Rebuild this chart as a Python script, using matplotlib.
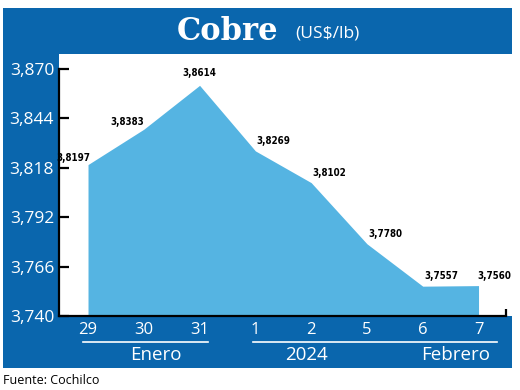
import matplotlib
matplotlib.use('Agg')
import matplotlib.pyplot as plt
from matplotlib.patches import Rectangle
from matplotlib.lines import Line2D

# datos
dias = ['29', '30', '31', '1', '2', '5', '6', '7']
precios = [3.8197, 3.8383, 3.8614, 3.8269, 3.8102, 3.7780, 3.7557, 3.7560]
y_ticks = [3.740, 3.766, 3.792, 3.818, 3.844, 3.870]
grupos = ['Enero', '2024', 'Febrero']

azul = '#0a66ad'
celeste = '#55b4e2'
W, H = 520, 390

def fx(px):  # pixel -> coord figura
    return px / W

def fy(py):
    return 1 - py / H

fig = plt.figure(figsize=(5.2, 3.9), dpi=100)
fig.patch.set_facecolor('white')

# panel azul de fondo
fig.patches.append(Rectangle((fx(3), fy(368)), fx(512) - fx(3), fy(8) - fy(368),
                             transform=fig.transFigure, facecolor=azul, edgecolor='none', zorder=-5))

ax = fig.add_axes([fx(59), fy(316), fx(512) - fx(59), fy(54) - fy(316)])
ax.set_zorder(5)
ax.set_facecolor('white')

x = list(range(len(precios)))
ax.fill_between(x, 3.740, precios, color=celeste, linewidth=0, zorder=2)

ax.set_xlim(-0.52, 7.6)
ax.set_ylim(3.740, 3.8779)

for s in ['top', 'right']:
    ax.spines[s].set_visible(False)
ax.spines['left'].set_bounds(3.740, 3.870)
ax.spines['bottom'].set_bounds(-0.52, 7.5)
ax.spines['left'].set_linewidth(1.6)
ax.spines['bottom'].set_linewidth(1.6)
ax.spines['left'].set_zorder(3)
ax.spines['bottom'].set_zorder(3)

tick_font = ['Open Sans', 'DejaVu Sans']
ax.set_yticks(y_ticks)
ax.set_yticklabels([f"{v:.3f}".replace('.', ',') for v in y_ticks],
                   color='white', fontsize=12.5, family=tick_font)
ax.tick_params(axis='y', direction='in', length=7, width=1.6, pad=3.5)

ax.set_xticks(x)
ax.set_xticklabels(dias, color='white', fontsize=12, family=tick_font)
ax.tick_params(axis='x', length=0, pad=4)
ax.set_xticks([7.5], minor=True)
ax.tick_params(axis='x', which='minor', direction='in', length=5, width=1.6)

# etiquetas de valores
alineacion = ['right', 'right', 'center', 'left', 'left', 'left', 'left', 'left']
dx = [2, 0, 0, 1, 1, 1, 1, -1]
dy = [5, 5, 9, 7, 7, 7, 7, 7]
for i, v in enumerate(precios):
    ax.annotate(f"{v:.4f}".replace('.', ','), (i, v), xytext=(dx[i], dy[i]),
                textcoords='offset points', ha=alineacion[i], va='center',
                fontsize=7, fontweight='bold', fontstretch='condensed',
                family='DejaVu Sans', color='black', zorder=4)

# lineas y meses bajo el eje
fig.lines.append(Line2D([fx(83), fx(208)], [fy(342), fy(342)], transform=fig.transFigure,
                        color='white', linewidth=1.2))
fig.lines.append(Line2D([fx(253), fx(497)], [fy(342), fy(342)], transform=fig.transFigure,
                        color='white', linewidth=1.2))
for txt, px in zip(grupos, [156, 307, 456]):
    fig.text(fx(px), fy(355), txt, color='white', fontsize=13.5, family=tick_font,
             ha='center', va='center')

# titulo
fig.text(fx(278), fy(31), 'Cobre', color='white', fontsize=22, fontweight='bold',
         family=['DejaVu Serif'], ha='right', va='center')
fig.text(fx(295), fy(33), '(US$/lb)', color='white', fontsize=12.5, family=tick_font,
         ha='left', va='center')

fig.text(fx(3), fy(380), 'Fuente: Cochilco', color='black', fontsize=9, family=tick_font,
         ha='left', va='center')

fig.savefig('out.png', dpi=100)
